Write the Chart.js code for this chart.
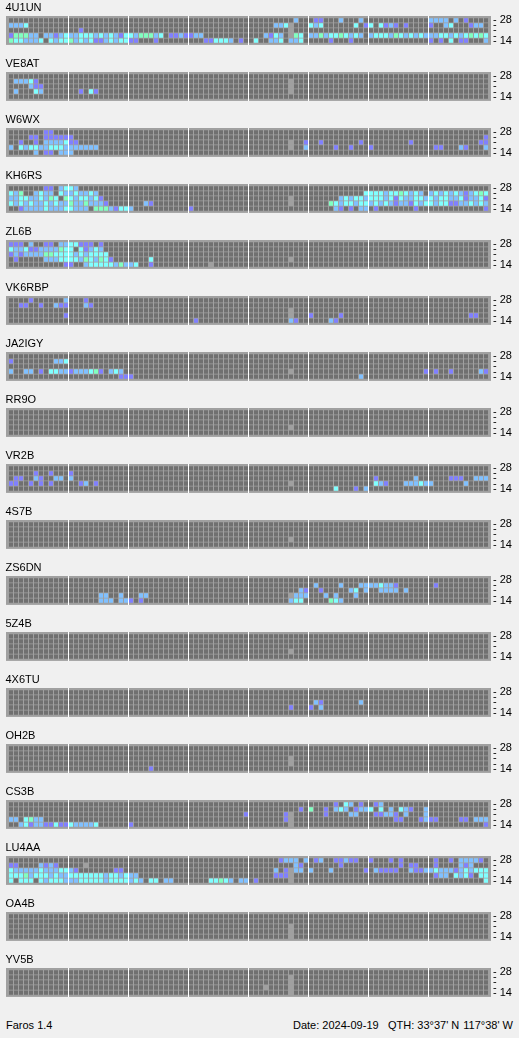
<!DOCTYPE html>
<html>
<head>
<meta charset="utf-8">
<title>Faros</title>
<script src="https://cdn.jsdelivr.net/npm/chart.js@4.4.8/dist/chart.umd.min.js"></script>
<style>
  html, body { margin: 0; padding: 0; background: #f0f0f0; }
  body { width: 519px; height: 1038px; position: relative; overflow: hidden;
         font: 11px "Liberation Sans", Arial, sans-serif; color: #000; }
  canvas { position: absolute; left: 0; }
  .foot { position: absolute; top: 1019px; line-height: 13px; white-space: pre; }
</style>
</head>
<body>
<div class="foot" style="left:6px">Faros 1.4</div>
<div class="foot" style="left:293px">Date: 2024-09-19</div>
<div class="foot" style="left:388px">QTH: 33°37' N</div>
<div class="foot" style="right:6px">117°38' W</div>
<script>
// beacons, top to bottom
const beacons = ['4U1UN', 'VE8AT', 'W6WX', 'KH6RS', 'ZL6B', 'VK6RBP', 'JA2IGY', 'RR9O', 'VR2B',
                 '4S7B', 'ZS6DN', '5Z4B', '4X6TU', 'OH2B', 'CS3B', 'LU4AA', 'OA4B', 'YV5B'];
// bands, top row first
const bands = ['28', '24', '21', '18', '14'];
const bandTicks = ['- 28', '-', '-', '-', '- 14'];

// one string per band, 96 quarter-hour slots in 8 groups of 12
// . no signal, v / b / c / g rising signal level, - no data
const E = '............ ............ ............ ............ ............ ............ ............ ............';
const G = '............ ............ ............ ............ ........-... ............ ............ ............';

const r4U1UN = [
  '............ ............ ............ ............ .........b.. .vv...b...b. ............ bbbb.b.v....',
  'bbbc........ ............ ............ ............ .....bbc-... cbc......c.v c.cvbv.v.... v..bc...vbb.',
  '............ ..v......... ............ ............ ........-... ............ ............ ............',
  'vgggbb.bbvbc bbcccbcbcbvc cbgggbc.vvbv vbb......... ...bvcb.-gc. bbgbccgcbcb. bcccbgcbcbcb bbccbcbcgcgc',
  'gccbbbc.cbcc gbcbcvvbcbcc vv...v...... ...vvcccb.v. .c..bbc.bbc. ....v...v... ............ v.v.c.vv...b'
];
const rVE8AT = [
  E,
  '.bbbcv...... ............ ............ ............ ........-... ............ ............ ............',
  '....bvv..... ............ ............ ............ ........-... ............ ............ ............',
  '.b...cb..... ..v.cv...... ............ ............ ........-... ............ ............ ............',
  E
];
const rW6WX = [
  '.......vv... ............ ............ ............ ............ ............ ............ ............',
  '....vv.vvvvv v........... ............ ............ ............ ............ ............ ...........v',
  '..v..v.bbbbc vv.......... ............ ............ ........-..v ..v.......v. ........v... ..........vv',
  'b.cbccbbcccb bbbbbb...... ............ ............ ........-..b .....v..v... v........... .vv...bv...b',
  '.....b.vv.bb b........... ............ ............ ............ ............ ............ ............'
];
const rKH6RS = [
  '.......vv.bc cb.......... ............ ............ ............ ............ ............ ............',
  'cbg..bcbb.cb bcbbcb...... ............ ............ ............ ...........c cccbccgcbcb. bcbcbcbvbcgc',
  'bbccbbcbgc.g cbccbcv..... ............ ............ ........-... ......bcbccb cccbcvcbbccb cbccbbcvbbcv',
  'cbcbcbbcbcbb gbbgbbbv.... ...bv....... ............ ........-... ....gcbccbcc bcbcbvbbvcbc cbccvvbbcbcb',
  '..vbbbbcbbbc cbbb.gggbvcc b........... v........... ............ .....bv.v.bb .v.......v.. ...........v'
];
const rZL6B = [
  'vvv.b..vv.bb ccvvv.v..... ............ ............ ............ ............ ............ ............',
  'cbbcvvbbbbgc c.cvbcb..... ............ ............ ............ ............ ............ ............',
  'vbvbbbbggccc cbcbcccc.... ............ ............ ............ ............ ............ ............',
  '.v.....bbbcc ccbgcbgcv... ....c....... ............ ........-... ............ ............ ............',
  '...........v v..bcccccbgb bc..v....... ....-....... ............ ............ ............ ............'
];
const rVK6RBP = [
  '....v......b ...v........ ............ ............ ............ ............ ............ ............',
  '..vv..v..bvv ...bv....... ............ ............ ............ ............ ............ ............',
  G,
  '...........v ............ ............ ............ ........-... v.....v..... ............ ........vv..',
  '............ ............ ............ .v.......... ........bv.. ....bv...... ............ ............'
];
const rJA2IGY = [
  E,
  'v........bbc ............ ............ ............ ............ ............ ............ ............',
  E,
  'b..bb.v.ccbb vbbbcgv.bcb. ............ ............ ........-... ............ ...........v .v..v.....bv',
  '............ ..........vv v........... ............ ............ ..........b. ............ ............'
];
const rRR9O = [E, E, E, G, E];
const rVR2B = [
  E,
  '.....v..v... v........... ............ ............ ............ ............ ............ ............',
  '.vv..bv..bb. b........... ............ ............ ............ ............ .v.......b.. ....vvv..bbb',
  'vv..v.v.v... ..vb.v...... ............ ............ ........-... ............ .cbv...bbbcb b......b....',
  '............ ............ ............ ............ ............ .....c...v.b ............ ............'
];
const r4S7B = [E, E, E, G, E];
const rZS6DN = [
  E,
  '............ ............ ............ ............ ............ .b....b...bb bbcbbv...... .v..........',
  '............ ............ ............ ............ ..........bv ..v.....bc.b ..bbbb.b.... ............',
  '............ ......bb..b. ..bb........ ............ ........-bbb ...b.b...b.. ............ ............',
  '............ ......bbb.bb v.v......... ............ ........bcc. ....gcb..... ............ ............'
];
const r5Z4B = [E, E, E, G, E];
const r4X6TU = [
  E,
  E,
  '............ ............ ............ ............ ............ .bv.......b. ............ ............',
  '............ ............ ............ ............ ........v... v.b......... ............ ............',
  E
];
const rOH2B = [
  E,
  E,
  G,
  G,
  '............ ............ ....v....... ............ ............ ............ ............ ............'
];
const rCS3B = [
  '............ ............ ............ ............ ............ .....v.cb.v. .vb......... ............',
  '............ ............ ............ ............ ..........v. g..v.bcb.vbb c.c.b.cbv..b ............',
  '............ ............ ............ ...........v .......v-... ...v....bb.. .vvbbv.b...b ............',
  'bb.cgbb..... ............ ............ ............ .......v-... ............ .....vv...vb vv....vv.bbb',
  '..bcvbbvvcvv cbbbbc...... v........... ............ ........-... ............ ............ ...........v'
];
const rLU4AA = [
  '............ ............ ............ ............ ......vbbb.b .vb..vvbvv.. v...v.v..... .v..v.bbbbv.',
  'vv....bvbv.. ...-........ ............ ............ .........bv. ......v..... ......v.vv.. .v....bvb...',
  'cbbbbbcbbbcc bv.......vv. ............ ............ .....b.v-bb. b...b......v .bvvvv..bvvb bcbbbvbcbccc',
  'cccgbcccbcbb cccccccbccbc bb.......... ............ .....vvv-... ............ ............ .vbb.cbcv.cc',
  'c.ccc.cbcccb bbcccccbcccc bcb.cc.bb... ....ccgcb.bb .v......-... ............ ............ ...........c'
];
const rOA4B = [E, E, G, G, G];
const rYV5B = [
  E,
  G,
  G,
  '............ ............ ............ ............ ...-....-... ............ ............ ............',
  G
];

const reports = [r4U1UN, rVE8AT, rW6WX, rKH6RS, rZL6B, rVK6RBP, rJA2IGY, rRR9O, rVR2B,
                 r4S7B, rZS6DN, r5Z4B, r4X6TU, rOH2B, rCS3B, rLU4AA, rOA4B, rYV5B];

// 96 quarter-hour slots (UTC)
const slots = [];
for (let h = 0; h < 24; h++) {
  for (const m of ['00', '15', '30', '45']) slots.push(String(h).padStart(2, '0') + ':' + m);
}

const palette = { '.': '#707070', v: '#8080ff', b: '#80c0ff', c: '#80ffff', g: '#80ffc0' };
const frameColor = '#a0a0a0';

Chart.defaults.font.family = '"Liberation Sans", Arial, sans-serif';
Chart.defaults.font.size = 11;
Chart.defaults.color = '#000';

// grey frame behind the cells
const framePlugin = {
  id: 'frame',
  beforeDraw(chart) {
    const { ctx, chartArea: a } = chart;
    ctx.save();
    ctx.fillStyle = frameColor;
    ctx.fillRect(a.left - 2.5, a.top, a.width + 5, a.height);
    ctx.restore();
  }
};

beacons.forEach((name, i) => {
  const canvas = document.createElement('canvas');
  canvas.width = 519;
  canvas.height = 56;
  canvas.style.top = (i * 56) + 'px';
  document.body.appendChild(canvas);

  const rows = reports[i].map(s => {
    const cells = s.replace(/ /g, '').split('');
    while (cells.length < slots.length) cells.push('.');
    return cells.slice(0, slots.length);
  });

  new Chart(canvas, {
    type: 'bar',
    plugins: [framePlugin],
    data: {
      labels: slots,
      datasets: rows.map((cells, t) => ({
        label: bands[t] + ' MHz',
        data: cells.map(c => c === '-' ? null : [t, t + 6 / 7]),
        backgroundColor: cells.map(c => palette[c] || 'transparent'),
        grouped: false,
        barPercentage: 0.8,
        categoryPercentage: 1,
        borderWidth: 0,
        inflateAmount: 0
      }))
    },
    options: {
      responsive: false,
      animation: false,
      events: [],
      layout: { padding: { left: 5.5, right: 0, top: 0, bottom: 0 } },
      plugins: {
        legend: { display: false },
        tooltip: { enabled: false },
        title: {
          display: true,
          text: name,
          align: 'start',
          color: '#000',
          font: { size: 11, weight: 'normal', lineHeight: 1.2 },
          padding: { top: 1.4, bottom: 1.4 }
        }
      },
      scales: {
        x: {
          type: 'category',
          offset: true,
          ticks: { display: false, autoSkip: false },
          border: { display: false },
          grid: {
            offset: true,
            drawTicks: false,
            lineWidth: 1,
            color: ctx => (ctx.index > 0 && ctx.index < 96 && ctx.index % 12 === 0) ? '#ffffff' : 'rgba(0,0,0,0)'
          },
          afterFit: s => { s.height = 0; }
        },
        y: {
          type: 'linear',
          position: 'right',
          reverse: true,
          min: -3 / 7,
          max: 5 + 2 / 7,
          grid: { display: false, drawTicks: false },
          border: { display: false },
          afterBuildTicks: s => { s.ticks = bands.map((b, t) => ({ value: t + 3 / 7 })); },
          ticks: {
            autoSkip: false,
            padding: 4.5,
            color: '#000',
            font: { size: 11 },
            callback: (v, idx) => bandTicks[idx]
          },
          afterFit: s => { s.width = 30.5; }
        },
        yl: {
          type: 'linear',
          position: 'left',
          ticks: { display: false },
          grid: { display: false },
          border: { display: false },
          afterFit: s => { s.width = 3; }
        }
      }
    }
  });
});
</script>
</body>
</html>
